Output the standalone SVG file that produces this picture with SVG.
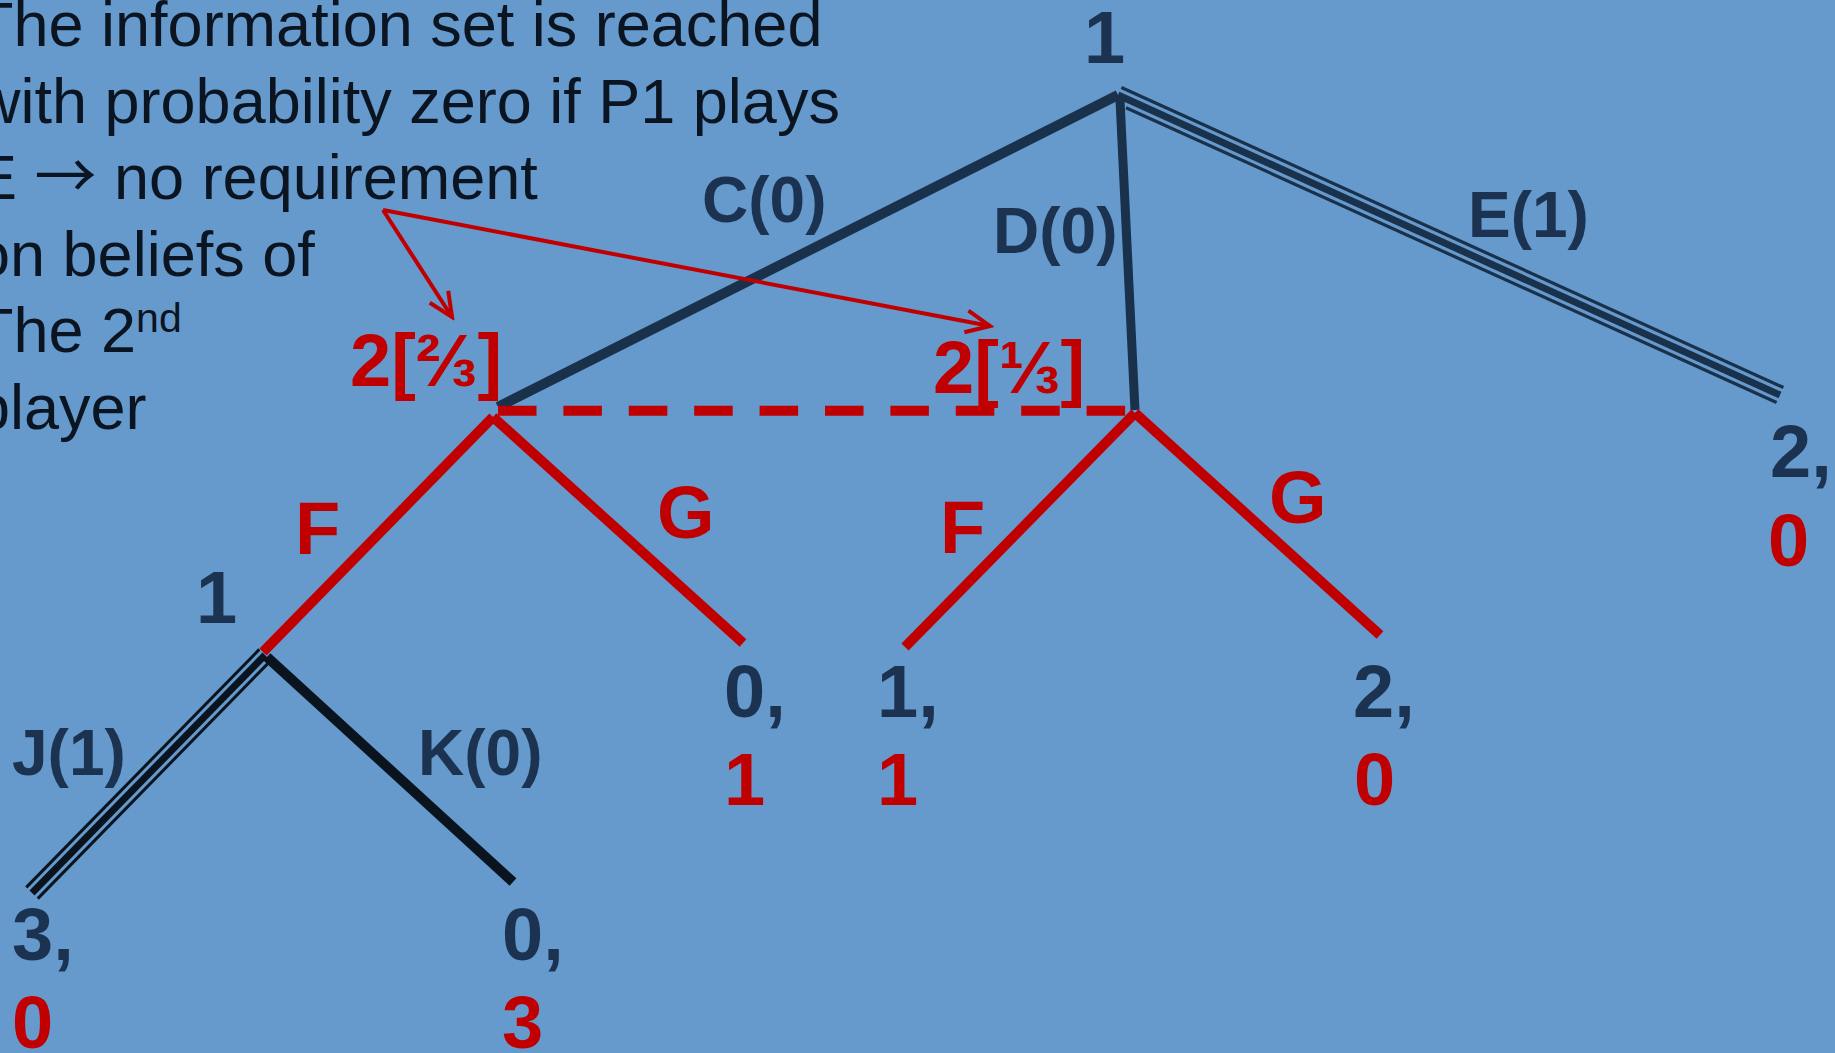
<svg xmlns="http://www.w3.org/2000/svg" width="1835" height="1053" viewBox="0 0 1835 1053">
<defs>
<style>
.para{font-family:"Liberation Sans",Arial,sans-serif;font-size:63px;fill:#0B1521}
.act{font-family:"Liberation Sans",Arial,sans-serif;font-size:64px;font-weight:bold;fill:#1B3350}
.big{font-family:"Liberation Sans","DejaVu Sans",Arial,sans-serif;font-size:74px;font-weight:bold}
.navy{fill:#1B3350}
.red{fill:#C00000}
.ln{fill:none;stroke-linecap:butt}
.dk{stroke:#19314A}
.blk{stroke:#0A141E}
.rd{stroke:#C00000}
.ann{fill:none;stroke:#C00000;stroke-width:4}
</style>
<marker id="open" viewBox="-28 -14 32 28" markerWidth="32" markerHeight="28" refX="0" refY="0" orient="auto" markerUnits="userSpaceOnUse">
<path d="M -24 -11 L 0 0 L -24 11" fill="none" stroke="#C00000" stroke-width="4"/>
</marker>
</defs>
<rect width="1835" height="1053" fill="#6699CC"/>

<g id="explanation" class="para">
<text x="-25" y="46">The information set is reached</text>
<text x="-25" y="123">with probability zero if P1 plays</text>
<text x="-25" y="199">E <tspan font-family="'Noto Sans CJK SC','DejaVu Sans',sans-serif" font-size="62">→</tspan> no requirement</text>
<text x="-25" y="276">on beliefs of</text>
<text x="-25" y="352">The 2<tspan font-size="41" dy="-20">nd</tspan></text>
<text x="-25" y="429">player</text>
</g>

<g id="connectors">
<line class="ln dk" x1="498" y1="407" x2="1118" y2="95" stroke-width="10"/>
<line class="ln dk" x1="1120" y1="100" x2="1135" y2="410" stroke-width="9"/>
<line class="ln dk" x1="1118" y1="95" x2="1780" y2="395" stroke-width="7"/>
<line class="ln dk" x1="1121.4" y1="87.5" x2="1783.4" y2="387.5" stroke-width="3.2"/>
<line class="ln dk" x1="1126" y1="107.7" x2="1776.6" y2="402.5" stroke-width="3.2"/>
<line class="ln rd" x1="498" y1="410.7" x2="1133" y2="410.7" stroke-width="10" stroke-dasharray="38.5 26.9"/>
<line class="ln rd" x1="493" y1="417" x2="263" y2="652" stroke-width="10"/>
<line class="ln rd" x1="493" y1="417" x2="743" y2="643" stroke-width="10"/>
<line class="ln rd" x1="1135" y1="413" x2="905" y2="647" stroke-width="10"/>
<line class="ln rd" x1="1135" y1="413" x2="1380" y2="635" stroke-width="10"/>
<line class="ln blk" x1="265" y1="655" x2="32" y2="893" stroke-width="7"/>
<line class="ln blk" x1="259.3" y1="649.4" x2="26.3" y2="887.4" stroke-width="3"/>
<line class="ln blk" x1="270.7" y1="660.6" x2="37.7" y2="898.6" stroke-width="3"/>
<line class="ln blk" x1="267" y1="657" x2="513" y2="882" stroke-width="10"/>
<line class="ann" x1="383" y1="210" x2="452" y2="317" marker-end="url(#open)"/>
<line class="ann" x1="383" y1="210" x2="990" y2="326" marker-end="url(#open)"/>
<text class="act" x="702" y="222">C(0)</text>
<text class="act" x="993" y="253">D(0)</text>
<text class="act" x="1468" y="237">E(1)</text>
<text class="big red" x="295" y="554">F</text>
<text class="big red" x="657" y="538">G</text>
<text class="big red" x="940" y="553">F</text>
<text class="big red" x="1269" y="523">G</text>
<text class="act" x="12" y="775">J(1)</text>
<text class="act" x="418" y="775">K(0)</text>
</g>

<g id="node-root"><text class="big navy" x="1084" y="63">1</text></g>
<g id="node-p2-left"><text class="big red" x="350" y="386">2[⅔]</text></g>
<g id="node-p2-right"><text class="big red" x="933" y="393">2[⅓]</text></g>
<g id="node-p1-lower"><text class="big navy" x="196" y="623">1</text></g>

<g id="payoff-E"><text class="big navy" x="1770" y="477">2,</text><text class="big red" x="1768" y="566">0</text></g>
<g id="payoff-CG"><text class="big navy" x="724" y="717">0,</text><text class="big red" x="724" y="805">1</text></g>
<g id="payoff-DF"><text class="big navy" x="877" y="717">1,</text><text class="big red" x="877" y="805">1</text></g>
<g id="payoff-DG"><text class="big navy" x="1353" y="717">2,</text><text class="big red" x="1354" y="805">0</text></g>
<g id="payoff-J"><text class="big navy" x="12" y="960">3,</text><text class="big red" x="12" y="1048">0</text></g>
<g id="payoff-K"><text class="big navy" x="502" y="960">0,</text><text class="big red" x="502" y="1048">3</text></g>
</svg>
